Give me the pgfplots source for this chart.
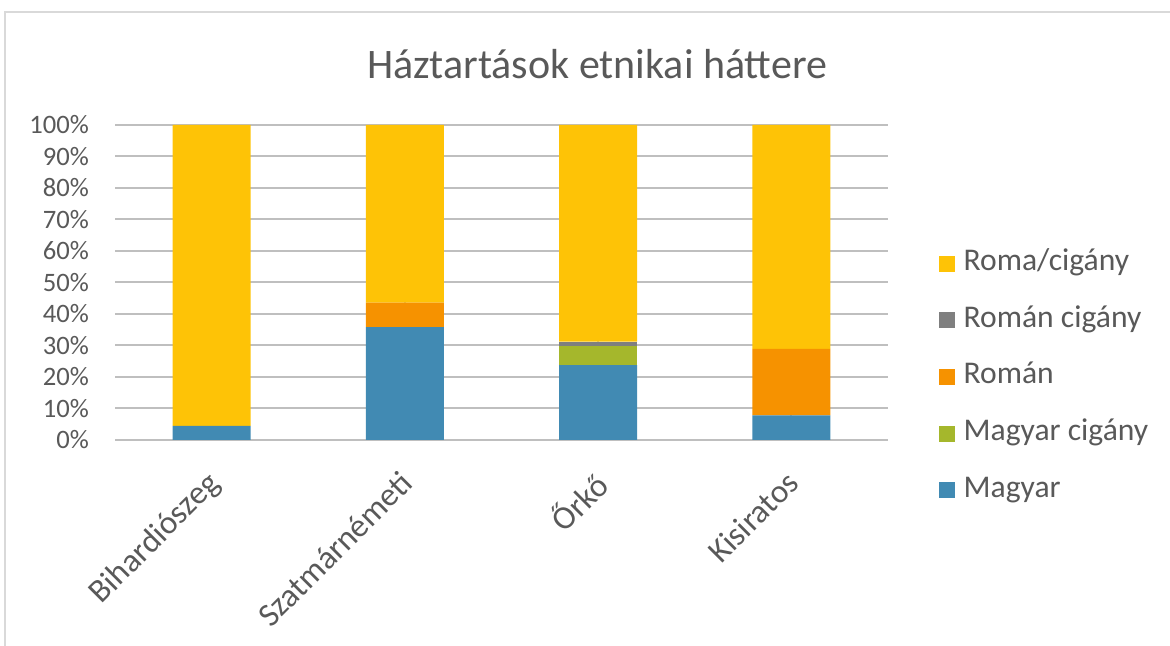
\documentclass[border=0pt]{standalone}
\usepackage{pgfplots}
\pgfplotsset{compat=1.18}
\usepackage{fontspec}
\setmainfont{Carlito}
\definecolor{cMagyar}{HTML}{418AB3}
\definecolor{cMagyarCig}{HTML}{A5B72C}
\definecolor{cRoman}{HTML}{F69200}
\definecolor{cRomanCig}{HTML}{7F7F7F}
\definecolor{cRoma}{HTML}{FEC306}
\definecolor{txt}{HTML}{595959}
\definecolor{grid}{HTML}{D9D9D9}
\begin{document}
\begin{tikzpicture}
\path[use as bounding box] (0,0) rectangle (585pt,323pt);
\draw[line width=1pt, grid] (2.5pt,0) -- (2.5pt,317pt) -- (585pt,317pt);
\node[text=txt, font=\fontsize{21}{24}\selectfont] at (298.5pt,291pt) {Háztartások etnikai háttere};
\begin{axis}[
  at={(57.5pt,103pt)}, anchor=south west,
  scale only axis, width=386.5pt, height=157.5pt,
  ybar stacked, bar width=39pt,
  xmin=-0.5, xmax=3.5, ymin=0, ymax=100,
  xtick={0,1,2,3},
  xticklabels={Bihardiószeg,Szatmárnémeti,Őrkő,Kisiratos},
  ytick={0,10,...,100},
  yticklabel={\pgfmathprintnumber{\tick}\%},
  /pgf/number format/assume math mode=true,
  axis line style={draw=none},
  major tick length=0pt,
  ymajorgrids, grid style={grid, line width=1pt},
  tick label style={text=txt},
  yticklabel style={font=\fontsize{13.3}{16}\selectfont, xshift=-9.5pt},
  xticklabel style={font=\fontsize{16.5}{20}\selectfont, xshift=-3.3pt, yshift=-14.3pt, rotate=45, anchor=north east, inner sep=0pt},
  reverse legend,
  legend cell align=left,
  legend style={draw=none, at={(1.065,0.2)}, anchor=west, inner sep=0pt,
    font=\fontsize{15.8}{18}\selectfont, text=txt, row sep=13.3pt,
    nodes={inner sep=0pt, text height=11pt, text depth=4pt}},
  legend image code/.code={\fill[#1] (0pt,-4pt) rectangle (8pt,4pt); \path (12.5pt,0pt);},
]
\addplot[fill=cMagyar, draw=none] coordinates {(0,4.5) (1,35.8) (2,23.8) (3,7.8)};
\addplot[fill=cMagyarCig, draw=none] coordinates {(0,0) (1,0) (2,6.0) (3,0)};
\addplot[fill=cRoman, draw=none] coordinates {(0,0) (1,7.8) (2,0) (3,21.1)};
\addplot[fill=cRomanCig, draw=none] coordinates {(0,0) (1,0) (2,1.4) (3,0)};
\addplot[fill=cRoma, draw=none] coordinates {(0,95.5) (1,56.4) (2,68.8) (3,71.1)};
\legend{Magyar, Magyar cigány, Román, Román cigány, Roma/cigány}
\end{axis}
\end{tikzpicture}
\end{document}
